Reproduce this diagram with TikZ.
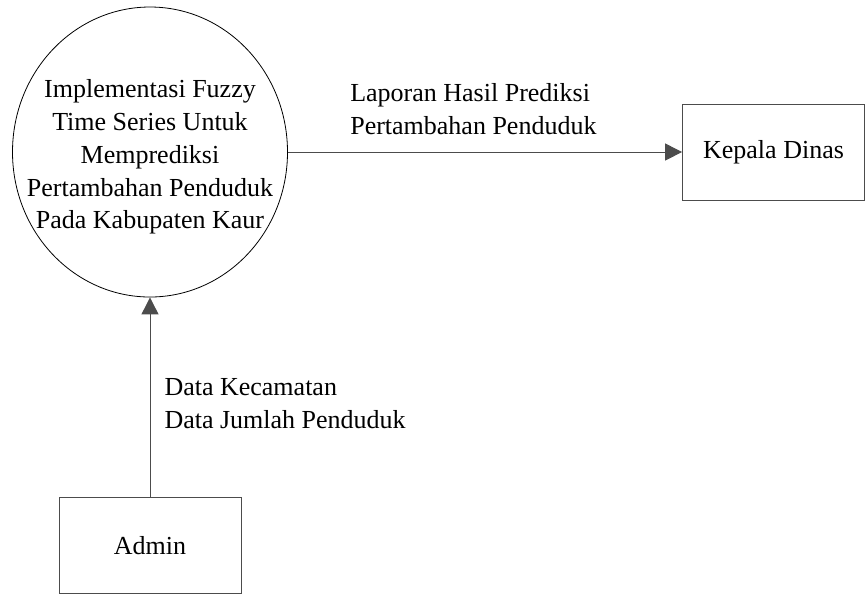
\documentclass[tikz,border=0pt]{standalone}
\usepackage{fontspec}
\setmainfont{Liberation Serif}
\usetikzlibrary{shapes.geometric,arrows.meta}
\begin{document}
\begin{tikzpicture}[x=0.5pt,y=-0.5pt,font=\fontsize{13}{16.4}\selectfont]
\tikzstyle{process} = [ellipse, draw=black, minimum width=137.5pt, minimum height=145pt, align=center, inner xsep=-14pt, inner ysep=0pt]
\tikzstyle{entity} = [rectangle, draw=black!70, minimum width=91pt, minimum height=48pt, text centered]
\tikzstyle{flow} = [-{Triangle[length=8.5pt,width=8.5pt]}, draw=black!70, line width=0.5pt]
\tikzstyle{flowlabel} = [align=left, inner sep=0pt]

\useasboundingbox (0,0) rectangle (865,602);

\node (Sistem) [process] at (150,152) {\rule{0pt}{14pt}Implementasi Fuzzy\\Time Series Untuk\\Memprediksi\\Pertambahan Penduduk\\Pada Kabupaten Kaur};
\node (KepalaDinas) [entity] at (773.5,152) {Kepala Dinas};
\node (Admin) [entity] at (150,545.5) {Admin};

\draw [flow] (Admin) -- node[flowlabel, pos=0.47, anchor=west, xshift=7pt] {Data Kecamatan\\Data Jumlah Penduduk} (Sistem);
\draw [flow] (Sistem) -- node[flowlabel, pos=0.157, anchor=south west, yshift=8.5pt] {Laporan Hasil Prediksi\\Pertambahan Penduduk} (KepalaDinas);

\end{tikzpicture}
\end{document}
